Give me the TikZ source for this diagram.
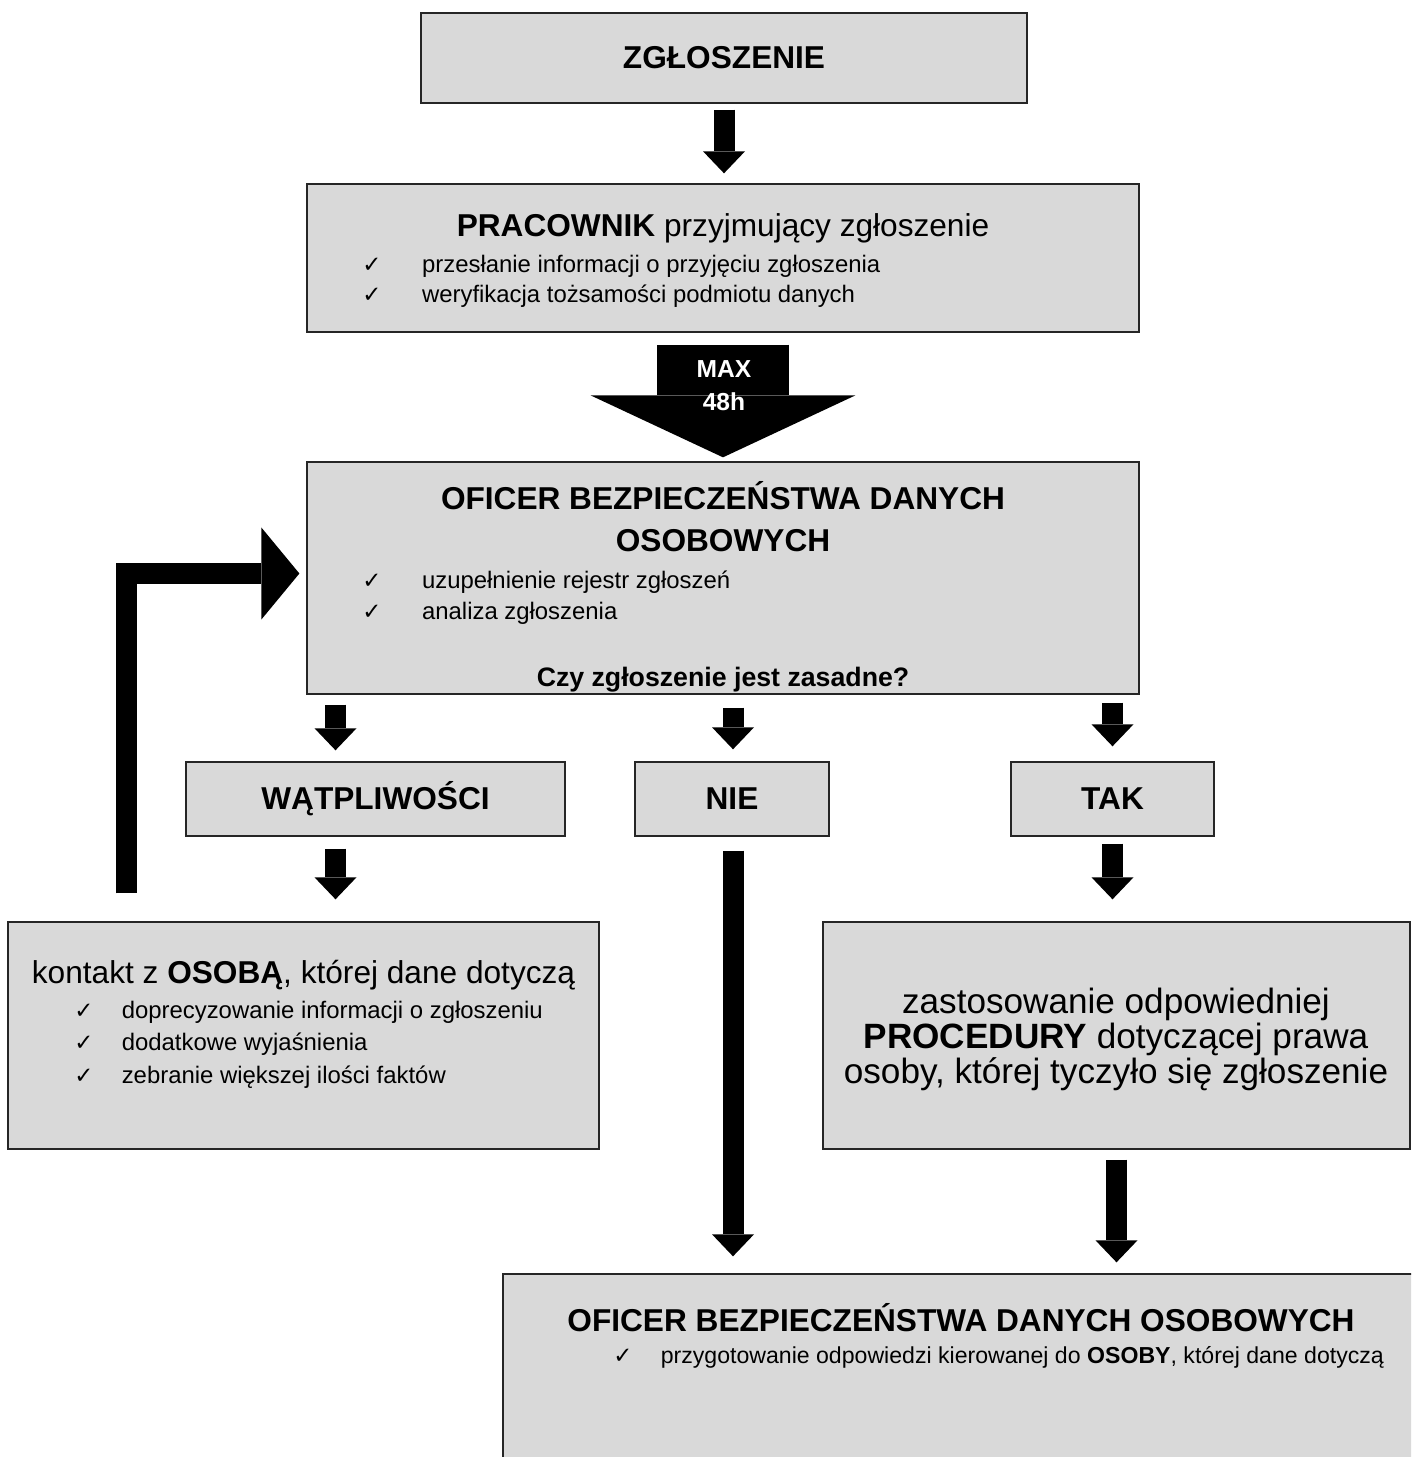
\documentclass[tikz,border=0pt]{standalone}
\usepackage{fontspec}
\setmainfont{Liberation Sans}
\newfontfamily\tickfont{DejaVu Sans}
\usepackage{tikz}
\usetikzlibrary{arrows.meta, calc, positioning}
\usepackage{xcolor}
\definecolor{boxgray}{HTML}{D9D9D9}
\newcommand{\ticked}[1]{\makebox[#1][l]{\tickfont\fontsize{13}{14}\selectfont\char"2713}}

\tikzset{
  box/.style={draw=black!85, line width=0.8pt, fill=boxgray, inner sep=0pt},
  title/.style={font=\fontsize{18}{22}\selectfont, inner sep=0pt},
  entry/.style={font=\fontsize{13.6}{16}\selectfont, inner sep=0pt, anchor=base west},
  fat/.style={line width=0.42cm, -{Triangle[width=0.84cm,length=0.44cm,line width=0pt]}},
  bigfat/.style={line width=2.64cm, -{Triangle[width=5.3cm,length=1.24cm,line width=0pt]}},
  loopfat/.style={line width=0.42cm, line join=miter, -{Triangle[width=1.84cm,length=0.76cm,line width=0pt]}}
}

\begin{document}
\begin{tikzpicture}[x=0.02cm, y=-0.02cm]
  \clip (0,0) rectangle (1411,1457);

  % boxes
  \node[box, title, font=\bfseries\fontsize{18}{22}\selectfont, minimum width=12.12cm, minimum height=1.8cm] (zgl) at (724,58) {ZGŁOSZENIE};
  \node[box, minimum width=16.64cm, minimum height=2.96cm] (prac) at (723,258) {};
  \node[box, minimum width=16.64cm, minimum height=4.64cm] (ofi) at (723,578) {};
  \node[box, title, font=\bfseries\fontsize{18}{22}\selectfont, minimum width=7.58cm, minimum height=1.48cm] (wat) at (375.5,799) {WĄTPLIWOŚCI};
  \node[box, title, font=\bfseries\fontsize{18}{22}\selectfont, minimum width=3.88cm, minimum height=1.48cm] (nie) at (732,799) {NIE};
  \node[box, title, font=\bfseries\fontsize{18}{22}\selectfont, minimum width=4.06cm, minimum height=1.48cm] (tak) at (1112.5,799) {TAK};
  \node[box, minimum width=11.82cm, minimum height=4.54cm] (kon) at (303.5,1035.5) {};
  \node[box, minimum width=11.74cm, minimum height=4.54cm] (zas) at (1116.5,1035.5) {};
  \node[box, minimum width=18.32cm, minimum height=4.12cm] (ofib) at (961,1377) {};

  % texts in boxes
  \node[title, anchor=base] (prachead) at (723,236) {\textbf{PRACOWNIK} przyjmujący zgłoszenie};
  \node[entry] (p1) at (362,272) {\ticked{34pt}przesłanie informacji o przyjęciu zgłoszenia};
  \node[entry] (p2) at (362,302) {\ticked{34pt}weryfikacja tożsamości podmiotu danych};

  \node[title, font=\bfseries\fontsize{18}{22}\selectfont, anchor=base] (ofihead) at (723,509) {OFICER BEZPIECZEŃSTWA DANYCH};
  \node[title, font=\bfseries\fontsize{18}{22}\selectfont, anchor=base] (ofihead2) at (723,551) {OSOBOWYCH};
  \node[entry] (o1) at (362,588) {\ticked{34pt}uzupełnienie rejestr zgłoszeń};
  \node[entry] (o2) at (362,619) {\ticked{34pt}analiza zgłoszenia};
  \node[inner sep=0pt, anchor=base, font=\bfseries\fontsize{15.2}{17}\selectfont] (czy) at (723,686) {Czy zgłoszenie jest zasadne?};

  \node[title, anchor=base] (konhead) at (303.5,983) {kontakt z \textbf{OSOBĄ}, której dane dotyczą};
  \node[entry] (k1) at (74,1018) {\ticked{27pt}doprecyzowanie informacji o zgłoszeniu};
  \node[entry] (k2) at (74,1050) {\ticked{27pt}dodatkowe wyjaśnienia};
  \node[entry] (k3) at (74,1083) {\ticked{27pt}zebranie większej ilości faktów};

  \node[title, font=\fontsize{20}{24}\selectfont, anchor=base] (z1) at (1116,1013) {zastosowanie odpowiedniej};
  \node[title, font=\fontsize{20}{24}\selectfont, anchor=base] (z2) at (1116,1048) {\textbf{PROCEDURY} dotyczącej prawa};
  \node[title, font=\fontsize{20}{24}\selectfont, anchor=base] (z3) at (1116,1083) {osoby, której tyczyło się zgłoszenie};

  \node[title, font=\bfseries\fontsize{18}{22}\selectfont, anchor=base] (ofibhead) at (961,1331) {OFICER BEZPIECZEŃSTWA DANYCH OSOBOWYCH};
  \node[entry, font=\fontsize{13.15}{16}\selectfont] (b1) at (613,1363) {\ticked{27pt}przygotowanie odpowiedzi kierowanej do \textbf{OSOBY}, której dane dotyczą};

  % arrows
  \draw[fat, shorten <=0.12cm, shorten >=0.2cm] (zgl.south) -- (zgl.south |- prac.north);
  \draw[bigfat, shorten <=0.24cm, shorten >=0.08cm] (prac.south) -- (ofi.north);
  \node[inner sep=0pt, align=center, text=white, font=\bfseries\fontsize{14}{18.7}\selectfont] (maxh) at (724,386) {MAX\\48h};

  \draw[fat, shorten <=0.2cm, shorten >=0.22cm] ([xshift=-0.8cm]wat.north |- ofi.south) -- ([xshift=-0.8cm]wat.north);
  \draw[fat, shorten <=0.26cm, shorten >=0.24cm] ([xshift=0.02cm]nie.north |- ofi.south) -- ([xshift=0.02cm]nie.north);
  \draw[fat, shorten <=0.16cm, shorten >=0.3cm] (tak.north |- ofi.south) -- (tak.north);

  \draw[fat, shorten <=0.24cm, shorten >=0.44cm] ([xshift=-0.8cm]wat.south) -- ([xshift=-0.8cm]wat.south |- kon.north);
  \draw[fat, shorten <=0.28cm, shorten >=0.34cm] ([xshift=0.02cm]nie.south) -- ([xshift=0.02cm]nie.south |- ofib.north);
  \draw[fat, shorten <=0.14cm, shorten >=0.44cm] (tak.south) -- (tak.south |- zas.north);
  \draw[fat, shorten <=0.2cm, shorten >=0.22cm] (zas.south) -- (zas.south |- ofib.north);

  % back to the officer
  \draw[loopfat] ([shift={(-177,-28)}]kon.north) |- ([shift={(-7,-4.5)}]ofi.west);
\end{tikzpicture}
\end{document}
